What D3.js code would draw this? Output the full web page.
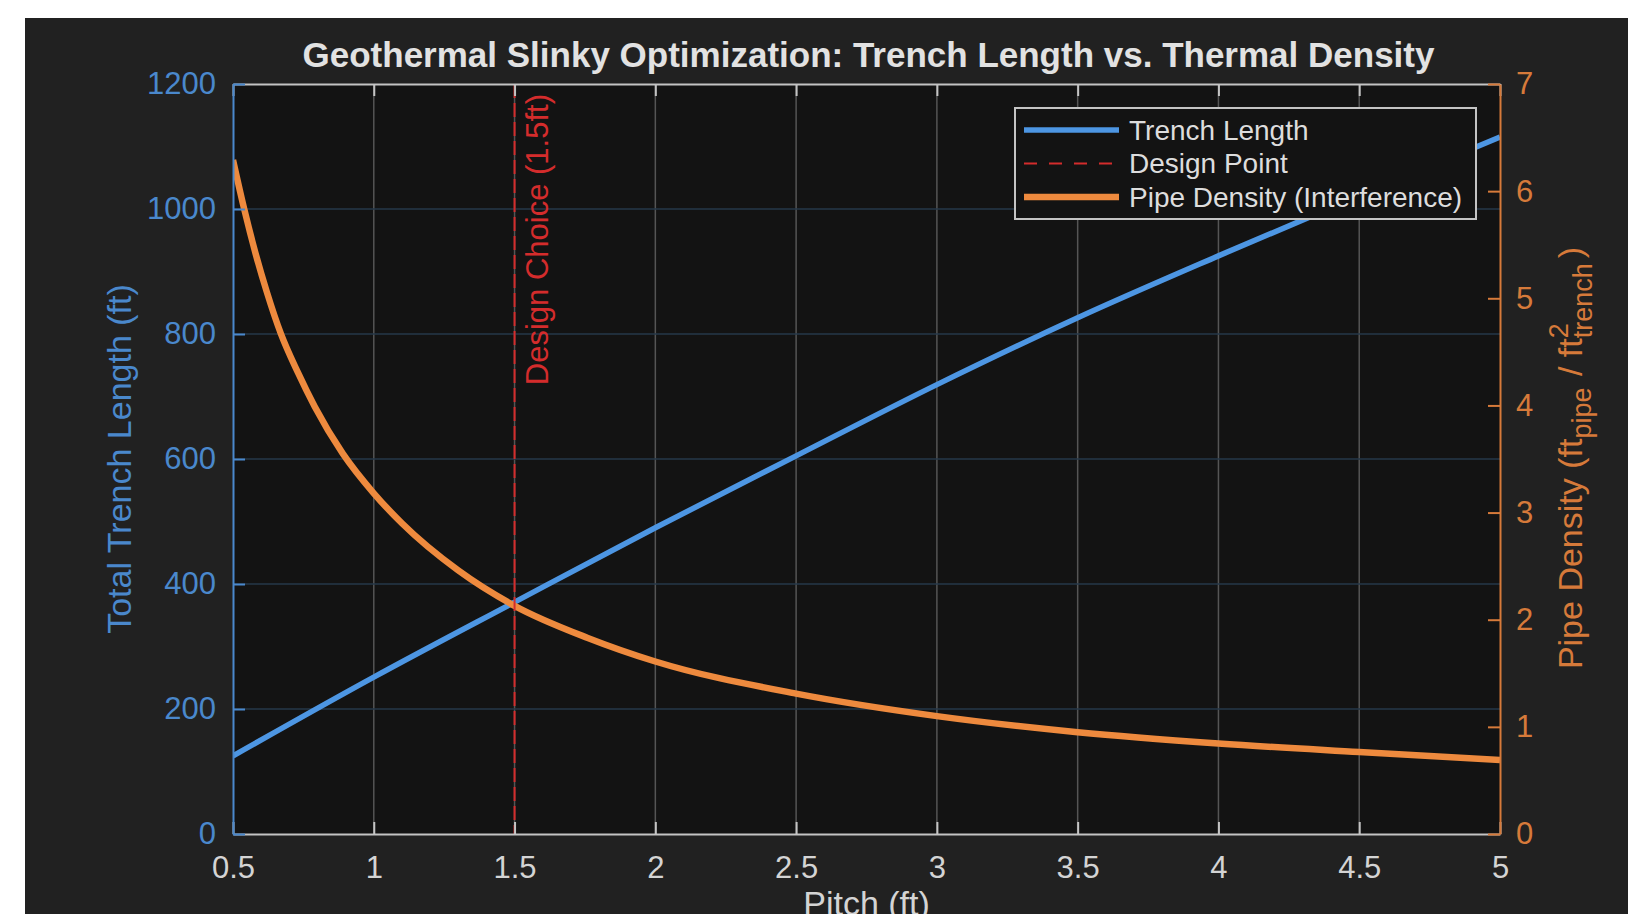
<!DOCTYPE html>
<html>
<head>
<meta charset="utf-8">
<script src="https://cdn.jsdelivr.net/npm/d3@7"></script>
<style>
  html, body { margin: 0; padding: 0; background: #ffffff; }
  svg { display: block; }
  text { font-family: "Liberation Sans", Arial, sans-serif; }
</style>
</head>
<body>
<svg id="chart" width="1628" height="914"></svg>
<script>
// Values
var pitchTrench = [0.5, 1, 1.5, 2, 2.5, 3, 3.5, 4, 4.5, 5];
var trenchLength = [125, 251, 371, 490, 605, 719, 826, 925, 1021, 1115];

var pitchDensity = [0.5, 0.54, 0.58, 0.62, 0.67, 0.73, 0.79, 0.89, 1.0, 1.1, 1.3, 1.5, 1.76, 2, 2.5, 3, 3.5, 4, 4.5, 5];
var pipeDensity = [6.29, 5.83, 5.42, 5.06, 4.67, 4.31, 3.99, 3.55, 3.18, 2.90, 2.46, 2.13, 1.83, 1.61, 1.31, 1.10, 0.95, 0.845, 0.765, 0.69];

var designPitch = 1.5;

var xTicks = [0.5, 1, 1.5, 2, 2.5, 3, 3.5, 4, 4.5, 5];
var xTickLabels = ['0.5', '1', '1.5', '2', '2.5', '3', '3.5', '4', '4.5', '5'];
var leftTicks = [0, 200, 400, 600, 800, 1000, 1200];
var leftTickLabels = ['0', '200', '400', '600', '800', '1000', '1200'];
var rightTicks = [0, 1, 2, 3, 4, 5, 6, 7];
var rightTickLabels = ['0', '1', '2', '3', '4', '5', '6', '7'];

var legendLabels = ['Trench Length', 'Design Point', 'Pipe Density (Interference)'];

// layout
var W = 1628, H = 914;
var plot = { left: 233, right: 1500, top: 84, bottom: 834 };

var colors = {
    figure: '#212121',
    axesBg: '#131313',
    blue: '#4d96e3',
    blueAxis: '#4a88cc',
    orange: '#ee8a3e',
    orangeAxis: '#d67a3a',
    red: '#d42c2c',
    text: '#d4d4d4',
    box: '#c4c4c4'
};

var svg = d3.select('#chart');

svg.append('rect')
    .attr('x', 25).attr('y', 18)
    .attr('width', W - 25).attr('height', H - 18)
    .attr('fill', colors.figure);

var x = d3.scaleLinear().domain([0.5, 5]).range([plot.left, plot.right]);
var yL = d3.scaleLinear().domain([0, 1200]).range([plot.bottom, plot.top]);
var yR = d3.scaleLinear().domain([0, 7]).range([plot.bottom, plot.top]);

svg.append('rect')
    .attr('x', plot.left).attr('y', plot.top)
    .attr('width', plot.right - plot.left).attr('height', plot.bottom - plot.top)
    .attr('fill', colors.axesBg);

// grid
var grid = svg.append('g');
grid.selectAll('.vgrid')
    .data(xTicks.slice(1, -1))
    .enter().append('line')
    .attr('x1', function (d) { return x(d); })
    .attr('x2', function (d) { return x(d); })
    .attr('y1', plot.top).attr('y2', plot.bottom)
    .attr('stroke', '#555555').attr('stroke-width', 1.5);
grid.selectAll('.hgrid')
    .data(leftTicks.slice(1, -1))
    .enter().append('line')
    .attr('x1', plot.left).attr('x2', plot.right)
    .attr('y1', function (d) { return yL(d); })
    .attr('y2', function (d) { return yL(d); })
    .attr('stroke', '#26384a').attr('stroke-width', 1.5);

svg.append('clipPath').attr('id', 'clip')
    .append('rect')
    .attr('x', plot.left).attr('y', plot.top)
    .attr('width', plot.right - plot.left).attr('height', plot.bottom - plot.top);

var marks = svg.append('g').attr('clip-path', 'url(#clip)');

var trenchLine = d3.line()
    .x(function (d, i) { return x(pitchTrench[i]); })
    .y(function (d) { return yL(d); })
    .curve(d3.curveMonotoneX);
marks.append('path')
    .attr('d', trenchLine(trenchLength))
    .attr('fill', 'none')
    .attr('stroke', colors.blue)
    .attr('stroke-width', 5.5);

var densityLine = d3.line()
    .x(function (d, i) { return x(pitchDensity[i]); })
    .y(function (d) { return yR(d); })
    .curve(d3.curveMonotoneX);
marks.append('path')
    .attr('d', densityLine(pipeDensity))
    .attr('fill', 'none')
    .attr('stroke', colors.orange)
    .attr('stroke-width', 6.5);

marks.append('line')
    .attr('x1', x(designPitch)).attr('x2', x(designPitch))
    .attr('y1', plot.top).attr('y2', plot.bottom)
    .attr('stroke', colors.red)
    .attr('stroke-width', 2)
    .attr('stroke-dasharray', '14,5');

svg.append('text')
    .attr('transform', 'translate(' + (x(designPitch) + 33) + ',' + (plot.top + 10) + ') rotate(-90)')
    .attr('text-anchor', 'end')
    .attr('fill', colors.red)
    .style('font-size', '31px')
    .text('Design Choice (1.5ft)');

// axes
var tickLen = 12;

var xBottom = svg.append('g')
    .attr('transform', 'translate(0,' + plot.bottom + ')')
    .call(d3.axisBottom(x).tickValues(xTicks)
        .tickFormat(function (d, i) { return xTickLabels[i]; })
        .tickSize(-tickLen).tickSizeOuter(0).tickPadding(22));
var xTop = svg.append('g')
    .attr('transform', 'translate(0,' + plot.top + ')')
    .call(d3.axisTop(x).tickValues(xTicks)
        .tickFormat('').tickSize(-tickLen).tickSizeOuter(0));
[xBottom, xTop].forEach(function (g) {
    g.select('.domain').attr('stroke', colors.box).attr('stroke-width', 2);
    g.selectAll('.tick line').attr('stroke', colors.box).attr('stroke-width', 2);
    g.selectAll('.tick text').attr('fill', colors.text).style('font-size', '31px');
});

var leftAxis = svg.append('g')
    .attr('transform', 'translate(' + plot.left + ',0)')
    .call(d3.axisLeft(yL).tickValues(leftTicks)
        .tickFormat(function (d, i) { return leftTickLabels[i]; })
        .tickSize(-tickLen).tickSizeOuter(0).tickPadding(17));
leftAxis.select('.domain').attr('stroke', colors.blueAxis).attr('stroke-width', 2);
leftAxis.selectAll('.tick line').attr('stroke', colors.blueAxis).attr('stroke-width', 2);
leftAxis.selectAll('.tick text').attr('fill', colors.blueAxis).style('font-size', '31px');

var rightAxis = svg.append('g')
    .attr('transform', 'translate(' + plot.right + ',0)')
    .call(d3.axisRight(yR).tickValues(rightTicks)
        .tickFormat(function (d, i) { return rightTickLabels[i]; })
        .tickSize(-tickLen).tickSizeOuter(0).tickPadding(16));
rightAxis.select('.domain').attr('stroke', colors.orangeAxis).attr('stroke-width', 2);
rightAxis.selectAll('.tick line').attr('stroke', colors.orangeAxis).attr('stroke-width', 2);
rightAxis.selectAll('.tick text').attr('fill', colors.orangeAxis).style('font-size', '31px');

// title and axis labels
svg.append('text')
    .attr('x', (plot.left + plot.right) / 2 + 2)
    .attr('y', 67)
    .attr('text-anchor', 'middle')
    .attr('fill', '#e2e2e2')
    .style('font-size', '35px')
    .style('font-weight', 'bold')
    .text('Geothermal Slinky Optimization: Trench Length vs. Thermal Density');

svg.append('text')
    .attr('x', (plot.left + plot.right) / 2)
    .attr('y', 915)
    .attr('text-anchor', 'middle')
    .attr('fill', colors.text)
    .style('font-size', '34px')
    .text('Pitch (ft)');

svg.append('text')
    .attr('transform', 'translate(131,' + (plot.top + plot.bottom) / 2 + ') rotate(-90)')
    .attr('text-anchor', 'middle')
    .attr('fill', colors.blueAxis)
    .style('font-size', '34px')
    .text('Total Trench Length (ft)');

var rLabel = svg.append('text')
    .attr('transform', 'translate(1582,458) rotate(-90)')
    .attr('text-anchor', 'middle')
    .attr('fill', colors.orangeAxis)
    .style('font-size', '34px');
rLabel.append('tspan').text('Pipe Density (ft');
rLabel.append('tspan').attr('dy', 9).style('font-size', '27px').text('pipe');
rLabel.append('tspan').attr('dx', 2).attr('dy', -9).text(' / ft');
rLabel.append('tspan').attr('dy', -14).style('font-size', '27px').text('2');
rLabel.append('tspan').attr('dx', -15).attr('dy', 24).style('font-size', '27px').text('trench');
rLabel.append('tspan').attr('dx', 5).attr('dy', -10).text(')');

// legend
var legend = svg.append('g');
legend.append('rect')
    .attr('x', 1015).attr('y', 108)
    .attr('width', 461).attr('height', 111)
    .attr('fill', colors.axesBg)
    .attr('stroke', colors.box)
    .attr('stroke-width', 2);

var legendStyles = [
    { color: colors.blue, width: 5.5, dash: null },
    { color: colors.red, width: 2, dash: '13,12' },
    { color: colors.orange, width: 6.5, dash: null }
];
var legendRows = legend.selectAll('.row')
    .data(legendLabels)
    .enter().append('g')
    .attr('transform', function (d, i) { return 'translate(0,' + (130 + i * 33.5) + ')'; });
legendRows.append('line')
    .attr('x1', 1024).attr('x2', 1119)
    .attr('y1', 0).attr('y2', 0)
    .attr('stroke', function (d, i) { return legendStyles[i].color; })
    .attr('stroke-width', function (d, i) { return legendStyles[i].width; })
    .attr('stroke-dasharray', function (d, i) { return legendStyles[i].dash; });
legendRows.append('text')
    .attr('x', 1129).attr('y', 0).attr('dy', '0.35em')
    .attr('fill', '#dddddd')
    .style('font-size', '28px')
    .text(function (d) { return d; });
</script>
</body>
</html>
